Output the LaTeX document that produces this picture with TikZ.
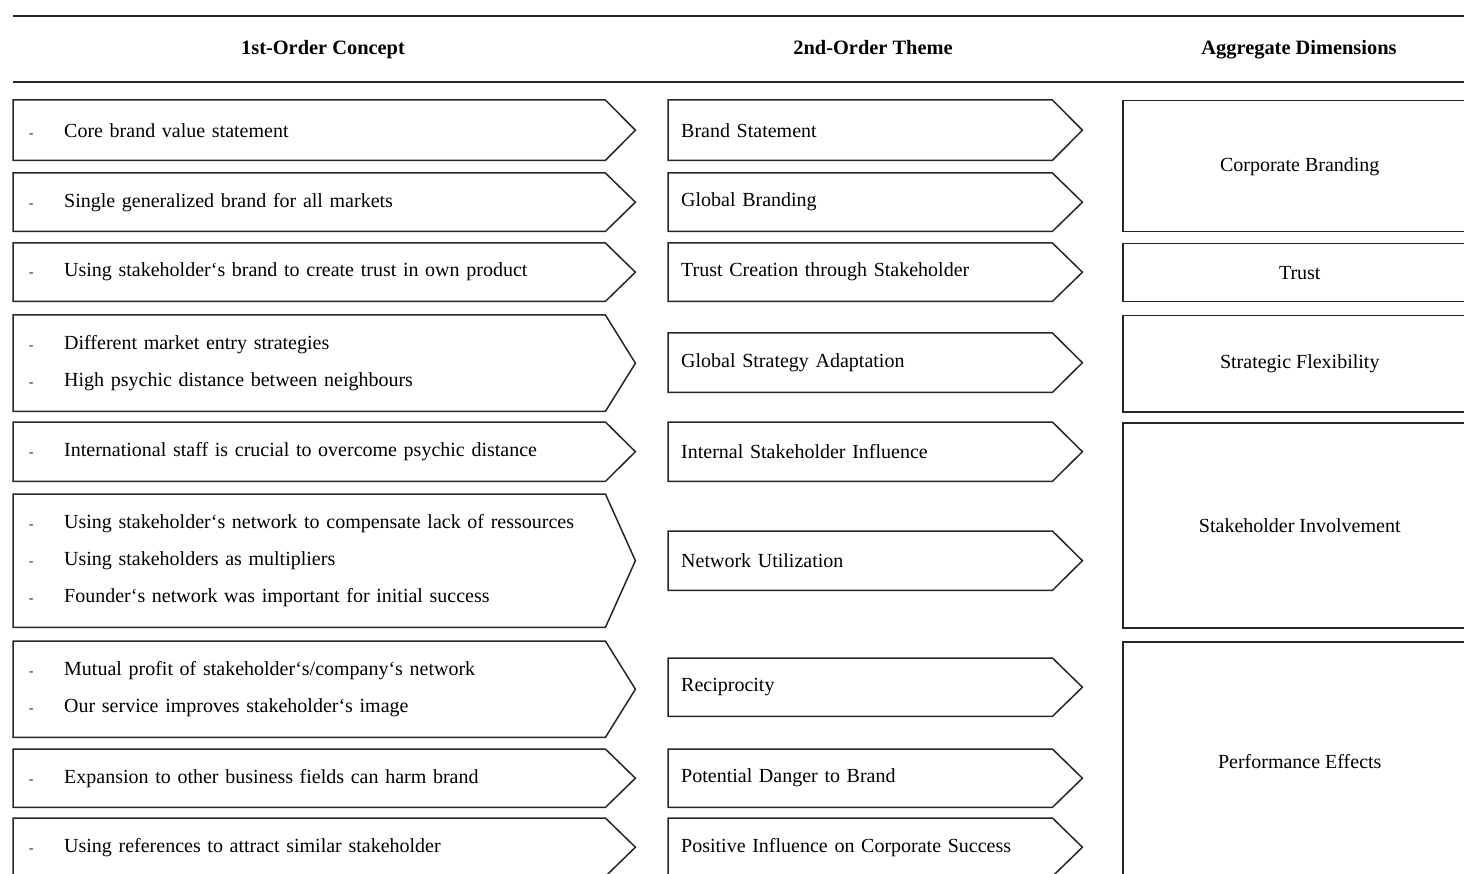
\documentclass[tikz,border=0pt]{standalone}
\usepackage{fontspec}
\setmainfont{Liberation Serif}
\usetikzlibrary{positioning}
\newcommand{\bul}{\makebox[35pt][l]{\fontsize{13}{13}\selectfont -}}
\newcommand{\chevron}[1]{\draw[frame] (#1.north west) -- ([xshift=-30pt]#1.north east) -- (#1.east) -- ([xshift=-30pt]#1.south east) -- (#1.south west) -- cycle;}

\begin{document}
\begin{tikzpicture}[
x=1pt, y=-1pt,
font=\fontsize{20}{37}\selectfont,
frame/.style={line width=1.5pt, draw=black!85},
rule/.style={line width=2pt, draw=black!85},
head/.style={anchor=base, font=\fontsize{20.4}{23}\selectfont\bfseries},
concept/.style={anchor=north west, inner xsep=16pt, inner ysep=0pt, text width=590pt, align=left},
theme/.style={anchor=north west, inner xsep=13pt, inner ysep=0pt, text width=388pt, align=left},
dim/.style={frame, anchor=north west, minimum width=354pt, align=center}
]
\useasboundingbox (0,0) rectangle (1464,874);
\clip (0,0) rectangle (1464,874);

% header
\draw[rule] (13,16) -- (1464,16);
\draw[rule] (13,82) -- (1464,82);
\node[head] (h1) at (323,55) {1st-Order Concept};
\node[head] (h2) at (873,55) {2nd-Order Theme};
\node[head] (h3) at (1299,55) {Aggregate Dimensions};

% 1st-order concepts
\node[concept, minimum height=60pt] (c1) at (13,100) {\bul Core brand value statement};
\node[concept, minimum height=58pt] (c2) at (13,173) {\bul Single generalized brand for all markets};
\node[concept, minimum height=58pt] (c3) at (13,243) {\bul Using stakeholder‘s brand to create trust in own product};
\node[concept, minimum height=96pt] (c4) at (13,315) {\bul Different market entry strategies\\ \bul High psychic distance between neighbours};
\node[concept, minimum height=59pt] (c5) at (13,422) {\bul International staff is crucial to overcome psychic distance};
\node[concept, minimum height=133pt] (c6) at (13,494) {\bul Using stakeholder‘s network to compensate lack of ressources\\ \bul Using stakeholders as multipliers\\ \bul Founder‘s network was important for initial success};
\node[concept, minimum height=96pt] (c7) at (13,641) {\bul Mutual profit of stakeholder‘s/company‘s network\\ \bul Our service improves stakeholder‘s image};
\node[concept, minimum height=58pt] (c8) at (13,749) {\bul Expansion to other business fields can harm brand};
\node[concept, minimum height=58pt] (c9) at (13,818) {\bul Using references to attract similar stakeholder};

% 2nd-order themes
\node[theme, minimum height=60pt] (t1) at (668,100) {Brand Statement};
\node[theme, minimum height=58pt] (t2) at (668,173) {Global Branding};
\node[theme, minimum height=58pt] (t3) at (668,243) {Trust Creation through Stakeholder};
\node[theme, minimum height=59pt] (t4) at (668,333) {Global Strategy Adaptation};
\node[theme, minimum height=59pt] (t5) at (668,422) {Internal Stakeholder Influence};
\node[theme, minimum height=59pt] (t6) at (668,531) {Network Utilization};
\node[theme, minimum height=58pt] (t7) at (668,658) {Reciprocity};
\node[theme, minimum height=58pt] (t8) at (668,749) {Potential Danger to Brand};
\node[theme, minimum height=58pt] (t9) at (668,818) {Positive Influence on Corporate Success};

\foreach \n in {c1,c2,c3,c4,c5,c6,c7,c8,c9,t1,t2,t3,t4,t5,t6,t7,t8,t9}{
  \chevron{\n}
}

% aggregate dimensions
\node[dim, minimum height=131pt] (d1) at (1122,100) {Corporate Branding};
\node[dim, minimum height=58pt] (d2) at (1122,243) {Trust};
\node[dim, minimum height=96pt] (d3) at (1122,315) {Strategic Flexibility};
\node[dim, minimum height=205pt] (d4) at (1122,422) {Stakeholder Involvement};
\node[dim, minimum height=239pt] (d5) at (1122,641) {Performance Effects};
\end{tikzpicture}
\end{document}
